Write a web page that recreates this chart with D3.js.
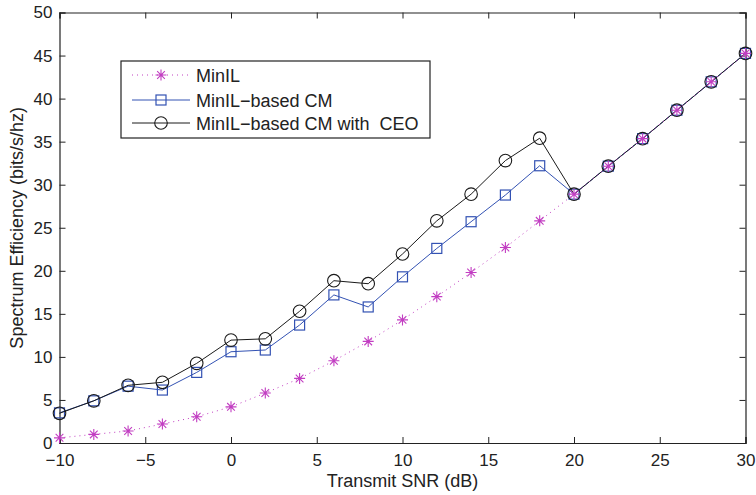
<!DOCTYPE html>
<html>
<head>
<meta charset="utf-8">
<script src="https://cdn.jsdelivr.net/npm/d3@7"></script>
<style>
  body { margin: 0; background: #fff; }
  text { font-family: "Liberation Sans", Arial, sans-serif; fill: #222; }
</style>
</head>
<body>
<div id="chart"></div>
<script>
// data
const snr = [-10, -8, -6, -4, -2, 0, 2, 4, 6, 8, 10, 12, 14, 16, 18, 20, 22, 24, 26, 28, 30];
const minIL = [0.6, 1.0, 1.4, 2.2, 3.05, 4.2, 5.8, 7.5, 9.55, 11.8, 14.3, 17.0, 19.8, 22.7, 25.8, 28.9, 32.15, 35.35, 38.65, 41.95, 45.25];
const minILCM = [3.5, 4.9, 6.6, 6.15, 8.2, 10.6, 10.8, 13.7, 17.2, 15.8, 19.3, 22.6, 25.7, 28.8, 32.2, 28.9, 32.15, 35.35, 38.65, 41.95, 45.25];
const minILCEO = [3.45, 4.9, 6.7, 7.05, 9.25, 11.95, 12.1, 15.3, 18.85, 18.5, 21.95, 25.8, 28.9, 32.8, 35.4, 28.9, 32.15, 35.35, 38.65, 41.95, 45.25];
const xTicks = [-10, -5, 0, 5, 10, 15, 20, 25, 30];
const yTicks = [0, 5, 10, 15, 20, 25, 30, 35, 40, 45, 50];
const seriesNames = ["MinIL", "MinIL\u2212based CM", "MinIL\u2212based CM with  CEO"];

const W = 756, H = 495;
const margin = { top: 12.5, right: 10.5, bottom: 52, left: 59.5 };
const iw = W - margin.left - margin.right,
      ih = H - margin.top - margin.bottom;

const magenta = "#c23ec2", blue = "#3352b3", black = "#1a1a1a";

const svg = d3.select("#chart").append("svg")
  .attr("width", W).attr("height", H);

const g = svg.append("g")
  .attr("transform", `translate(${margin.left},${margin.top})`);

const x = d3.scaleLinear().domain([-10, 30]).range([0, iw]);
const y = d3.scaleLinear().domain([0, 50]).range([ih, 0]);

// axes, ticks pointing inward on all sides
const tl = 6;
g.append("g").attr("transform", `translate(0,${ih})`)
  .call(d3.axisBottom(x).tickValues(xTicks).tickSize(-tl).tickPadding(11)
    .tickFormat(d => d < 0 ? "\u2212" + Math.abs(d) : d));
g.append("g").call(d3.axisTop(x).tickValues(xTicks).tickSize(-tl).tickFormat(""));
g.append("g")
  .call(d3.axisLeft(y).tickValues(yTicks).tickSize(-tl).tickPadding(7));
g.append("g").attr("transform", `translate(${iw},0)`)
  .call(d3.axisRight(y).tickValues(yTicks).tickSize(-tl).tickFormat(""));

g.selectAll(".domain").attr("stroke", "#222").attr("stroke-width", 1.2);
g.selectAll(".tick line").attr("stroke", "#222").attr("stroke-width", 1);
g.selectAll(".tick text").style("font-size", "17px").attr("fill", "#222");

// axis titles
svg.append("text")
  .attr("x", margin.left + iw / 2).attr("y", 487)
  .attr("text-anchor", "middle").style("font-size", "18px")
  .text("Transmit SNR (dB)");
svg.append("text")
  .attr("transform", `translate(23,${margin.top + ih / 2}) rotate(-90)`)
  .attr("text-anchor", "middle").style("font-size", "18px")
  .text("Spectrum Efficiency (bits/s/hz)");

// marker helpers
function star(sel, s) {
  const r = s / 2, d = r * 0.7;
  sel.append("path")
    .attr("d", `M${-r},0H${r}M0,${-r}V${r}M${-d},${-d}L${d},${d}M${-d},${d}L${d},${-d}`)
    .attr("stroke", magenta).attr("stroke-width", 1.1).attr("fill", "none");
}
function square(sel, s, col) {
  sel.append("rect").attr("x", -s / 2).attr("y", -s / 2)
    .attr("width", s).attr("height", s)
    .attr("fill", "none").attr("stroke", col).attr("stroke-width", 1.2);
}
function circle(sel, r, col) {
  sel.append("circle").attr("r", r)
    .attr("fill", "none").attr("stroke", col).attr("stroke-width", 1.1);
}

const line = d3.line().x(d => x(d[0])).y(d => y(d[1]));

const series = [
  { vals: minILCM, col: blue, dash: null, mk: s => square(s, 10, blue) },
  { vals: minILCEO, col: black, dash: null, mk: s => circle(s, 6.3, black) },
  { vals: minIL, col: magenta, dash: "1,4", mk: s => star(s, 11) }
];

series.forEach(sr => {
  const pts = snr.map((v, i) => [v, sr.vals[i]]);
  g.append("path").datum(pts)
    .attr("d", line).attr("fill", "none")
    .attr("stroke", sr.col).attr("stroke-width", 1)
    .attr("stroke-dasharray", sr.dash);
  g.selectAll(null).data(pts).enter().append("g")
    .attr("transform", d => `translate(${x(d[0])},${y(d[1])})`)
    .each(function () { sr.mk(d3.select(this)); });
});

// legend
const leg = svg.append("g").attr("transform", "translate(121,61)");
leg.append("rect").attr("width", 309).attr("height", 77)
  .attr("fill", "#fff").attr("stroke", "#222").attr("stroke-width", 1.2);
const legRows = [
  { name: seriesNames[0], col: magenta, dash: "1,4", mk: s => star(s, 11), yy: 14 },
  { name: seriesNames[1], col: blue, dash: null, mk: s => square(s, 10, blue), yy: 39 },
  { name: seriesNames[2], col: black, dash: null, mk: s => circle(s, 6.3, black), yy: 62 }
];
legRows.forEach(r => {
  leg.append("line").attr("x1", 11).attr("x2", 69)
    .attr("y1", r.yy).attr("y2", r.yy)
    .attr("stroke", r.col).attr("stroke-width", 1)
    .attr("stroke-dasharray", r.dash);
  r.mk(leg.append("g").attr("transform", `translate(40,${r.yy})`));
  leg.append("text").attr("x", 75).attr("y", r.yy + 6.5)
    .style("font-size", "18px").style("white-space", "pre")
    .text(r.name);
});
</script>
</body>
</html>
